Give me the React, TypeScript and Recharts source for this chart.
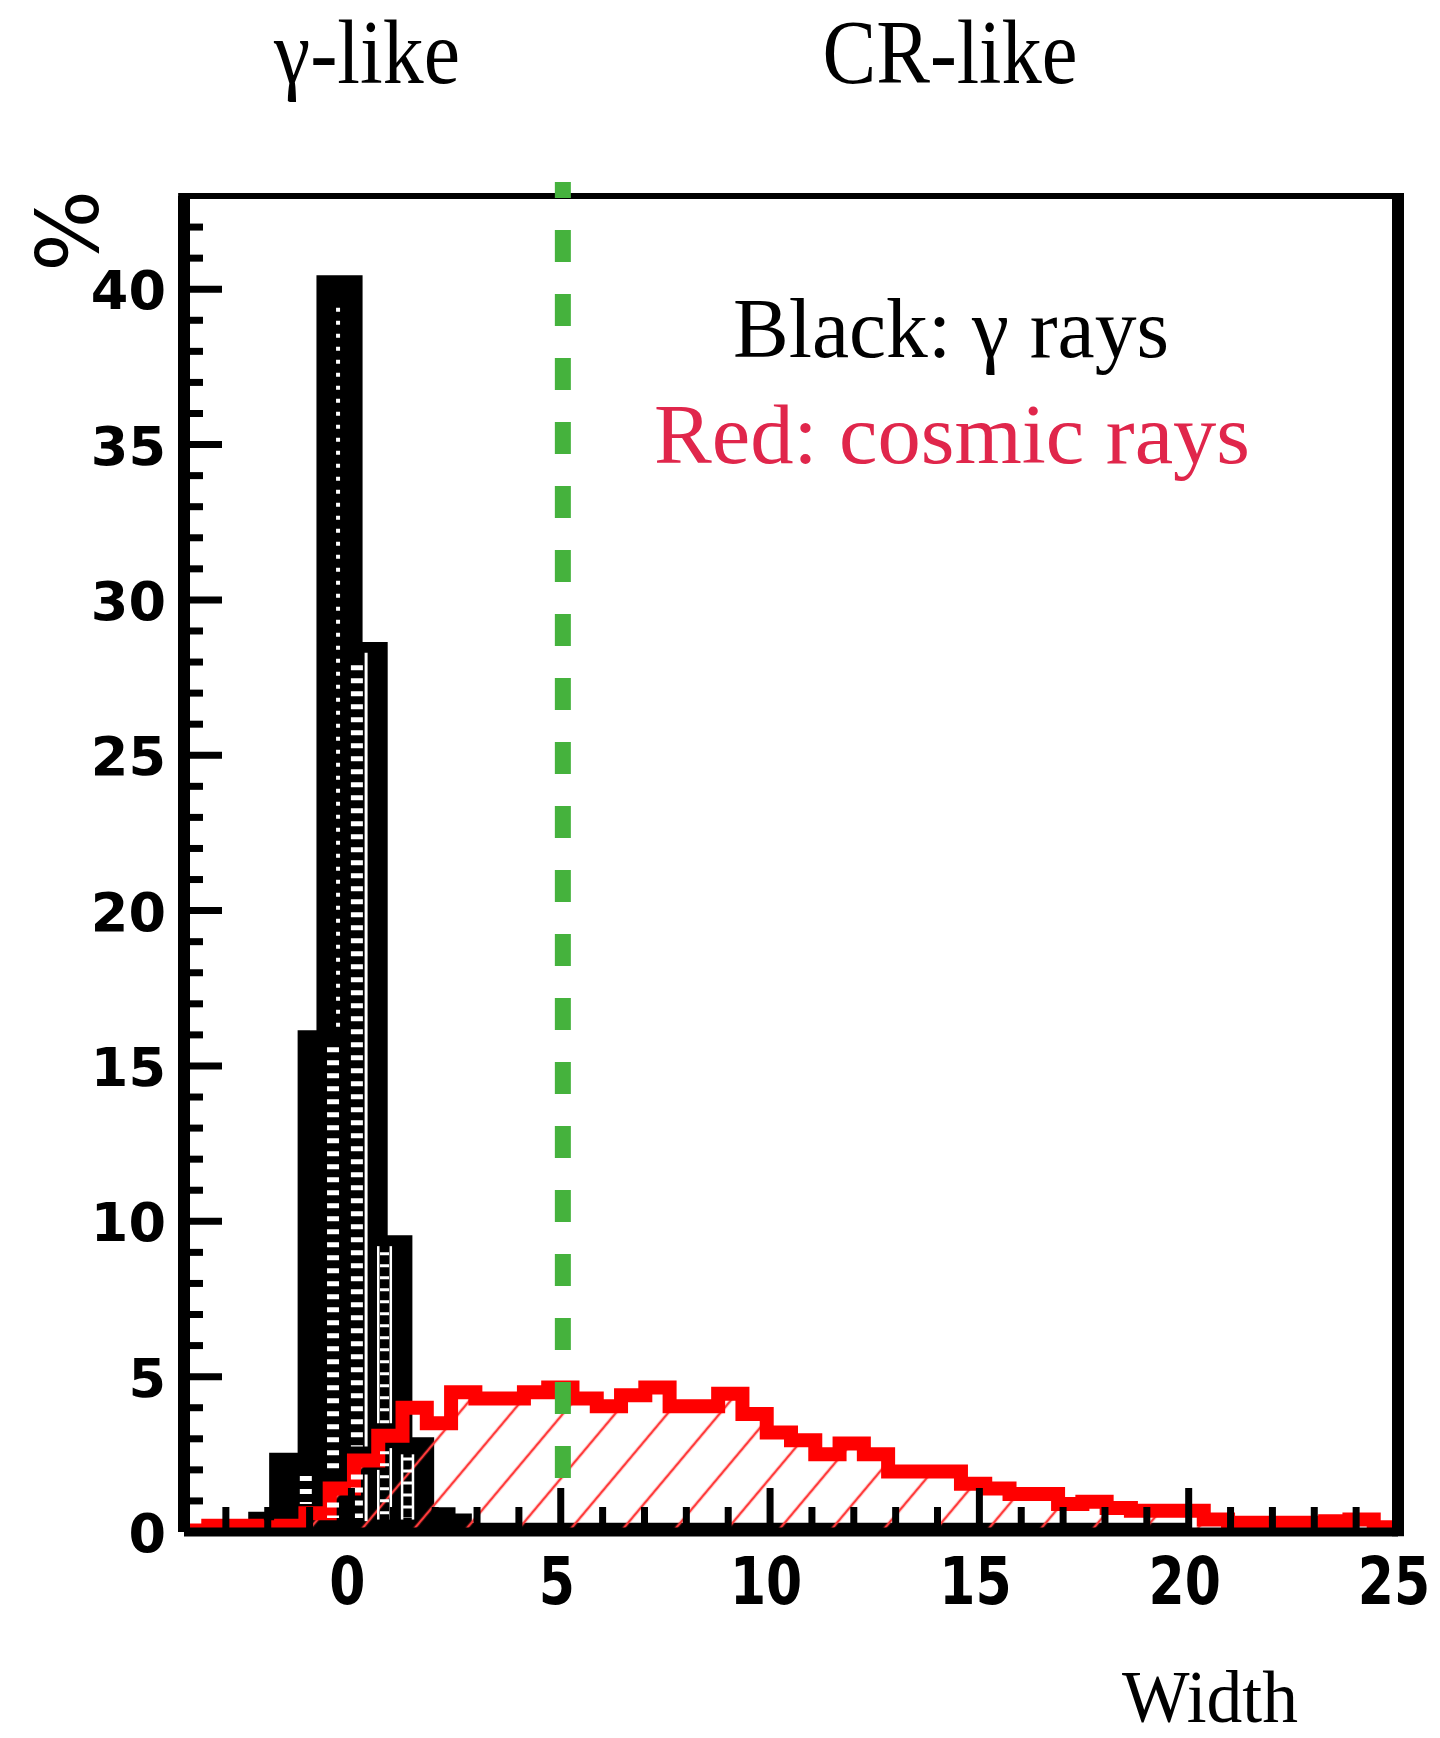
import React from "react";
import { ComposedChart, Area, XAxis, YAxis, ReferenceLine } from "recharts";

const W = 1440;
const H = 1738;

// 50 equal bins over the Width axis range
const BIN_START = -4;
const BIN_WIDTH = 0.58;

// cosmic rays: % of events per Width bin
const crPct = [
  0.05, 0.2, 0.2, 0.15, 0.2, 0.6, 1.4, 2.3, 3.1, 4.0,
  3.5, 4.5, 4.3, 4.3, 4.5, 4.65, 4.3, 4.05, 4.4, 4.65,
  4.05, 4.05, 4.45, 3.8, 3.2, 2.95, 2.5, 2.85, 2.5, 1.95,
  1.95, 1.95, 1.55, 1.4, 1.22, 1.22, 0.9, 0.97, 0.77, 0.68,
  0.68, 0.68, 0.4, 0.3, 0.3, 0.3, 0.3, 0.35, 0.4, 0.15,
];

// gamma rays: envelope of the overlaid gamma samples
const gammaEdges = [-4, -2.43, -1.93, -1.25, -0.8, 0.23, 0.83, 1.42, 1.94, 2.45, 2.84, 19.9, 25];
const gammaPct = [0.05, 0.6, 2.5, 16.1, 40.4, 28.6, 9.5, 3.0, 0.75, 0.55, 0.25, 0.08];

// white fill patterns of the overlaid gamma samples
const gammaTexture = [
  { x: -0.32, from: 39.4, to: 16.0, kind: "dots" },
  { x: -0.44, from: 15.6, to: 1.85, kind: "dashes" },
  { x: -0.44, from: 0.95, to: 0.45, kind: "dashes" },
  { x: 0.13, from: 27.9, to: 2.75, kind: "dashes" },
  { x: 0.13, from: 1.85, to: 0.45, kind: "dashes" },
  { x: 0.35, from: 28.3, to: 2.75, kind: "line" },
  { x: 0.35, from: 1.85, to: 0.35, kind: "line" },
  { x: 0.64, from: 9.2, to: 3.5, kind: "rail" },
  { x: 0.94, from: 9.2, to: 3.5, kind: "rail" },
  { x: 0.79, from: 9.0, to: 3.5, kind: "rungs" },
  { x: 0.64, from: 2.0, to: 0.4, kind: "rail" },
  { x: 0.94, from: 2.7, to: 0.4, kind: "rail" },
  { x: 0.79, from: 2.6, to: 0.45, kind: "rungs" },
  { x: 1.21, from: 2.5, to: 0.4, kind: "rail" },
  { x: 1.47, from: 2.5, to: 0.4, kind: "rail" },
  { x: 1.34, from: 2.4, to: 0.45, kind: "rungs" },
  { x: -1.09, from: 1.8, to: 0.9, kind: "dashes" },
];

const textureStyle: Record<string, { strokeWidth: number; strokeDasharray?: string }> = {
  dots: { strokeWidth: 4, strokeDasharray: "4 9" },
  dashes: { strokeWidth: 12, strokeDasharray: "5 8" },
  line: { strokeWidth: 3 },
  rail: { strokeWidth: 2.5 },
  rungs: { strokeWidth: 9, strokeDasharray: "3 9" },
};

// γ-like / CR-like separation cut
const cutWidth = 5.05;

const range = (a: number, b: number) => Array.from({ length: b - a + 1 }, (_, i) => a + i);
const xTicks = range(-4, 25);
const yTicks = range(0, 42);

const crEdges = crPct.map((_, i) => +(BIN_START + i * BIN_WIDTH).toFixed(2)).concat(25);

const stepValue = (edges: number[], vals: number[], x: number) => {
  for (let i = 0; i < vals.length; i++) {
    if (x >= edges[i] && x < edges[i + 1]) return vals[i];
  }
  return vals[vals.length - 1];
};

const xs = Array.from(new Set([...crEdges, ...gammaEdges])).sort((a, b) => a - b);
const data = xs.map((x) => ({
  x,
  cr: stepValue(crEdges, crPct, x),
  gamma: stepValue(gammaEdges, gammaPct, x),
}));

const XTick = (props: any) => {
  const { x, y, payload } = props;
  const v = payload.value;
  const major = v % 5 === 0;
  const edge = v === -4 || v === 25;
  return (
    <g>
      {!edge && (
        <line x1={x} x2={x} y1={y} y2={y - (major ? 44 : 25)} stroke="#000" strokeWidth={7} />
      )}
      {major && (
        <text
          transform={`translate(${x - 4}, ${y + 72}) scale(1, 1.25)`}
          textAnchor="middle"
          fontFamily="DejaVu Sans"
          fontWeight="bold"
          fontSize={52}
          fill="#000"
        >
          {v}
        </text>
      )}
    </g>
  );
};

const YTick = (props: any) => {
  const { x, y, payload } = props;
  const v = payload.value;
  const major = v % 5 === 0;
  return (
    <g>
      {v !== 0 && (
        <line x1={x} x2={x + (major ? 38 : 19)} y1={y} y2={y} stroke="#000" strokeWidth={7} />
      )}
      {major && (
        <text
          x={x - 18}
          y={y + 20}
          textAnchor="end"
          fontFamily="DejaVu Sans"
          fontWeight="bold"
          fontSize={54}
          fill="#000"
        >
          {v}
        </text>
      )}
    </g>
  );
};

export default function App() {
  return (
    <div style={{ position: "absolute", left: 0, top: 0, width: W, height: H, background: "#fff" }}>
      <ComposedChart
        width={W}
        height={H}
        data={data}
        margin={{ top: 196, right: 42, bottom: 205, left: 183 }}
      >
        <defs>
          <pattern id="crHatch" patternUnits="userSpaceOnUse" width={40} height={40} patternTransform="rotate(40)">
            <line x1={20} y1={0} x2={20} y2={40} stroke="#ff3a3a" strokeWidth={2.5} />
          </pattern>
        </defs>
        <XAxis
          type="number"
          dataKey="x"
          domain={[-4, 25]}
          ticks={xTicks}
          interval={0}
          allowDataOverflow
          height={1}
          tickLine={false}
          tickSize={0}
          tickMargin={0}
          tick={<XTick />}
          axisLine={{ stroke: "#000", strokeWidth: 9 }}
        />
        <YAxis
          type="number"
          domain={[0, 43]}
          ticks={yTicks}
          interval={0}
          allowDataOverflow
          width={1}
          tickLine={false}
          tickSize={0}
          tickMargin={0}
          tick={<YTick />}
          axisLine={{ stroke: "#000", strokeWidth: 12 }}
        />
        <Area
          type="stepAfter"
          dataKey="gamma"
          fill="#000"
          fillOpacity={1}
          stroke="#000"
          strokeWidth={3}
          dot={false}
          activeDot={false}
          isAnimationActive={false}
        />
        {gammaTexture.map((t, i) => (
          <ReferenceLine
            key={`tex-${i}`}
            segment={[{ x: t.x, y: t.from }, { x: t.x, y: t.to }]}
            stroke="#fff"
            {...textureStyle[t.kind]}
            ifOverflow="visible"
          />
        ))}
        <Area
          type="stepAfter"
          dataKey="cr"
          fill="url(#crHatch)"
          fillOpacity={1}
          stroke="#ff0000"
          strokeWidth={14}
          dot={false}
          activeDot={false}
          isAnimationActive={false}
        />
        <ReferenceLine
          segment={[{ x: -4.14, y: 43 }, { x: 25.14, y: 43 }]}
          stroke="#000"
          strokeWidth={6}
          ifOverflow="visible"
        />
        <ReferenceLine
          segment={[{ x: 25, y: 43.1 }, { x: 25, y: -0.14 }]}
          stroke="#000"
          strokeWidth={12}
          ifOverflow="visible"
        />
        <ReferenceLine
          segment={[{ x: cutWidth, y: 43.45 }, { x: cutWidth, y: 1.68 }]}
          stroke="#45b23d"
          strokeWidth={16}
          strokeDasharray="32 32"
          strokeDashoffset={16}
          ifOverflow="visible"
        />
      </ComposedChart>
      <svg width={W} height={H} style={{ position: "absolute", left: 0, top: 0, pointerEvents: "none" }}>
        <g fontFamily="Liberation Serif" fill="#000">
          <text x={367} y={83} fontSize={90} textAnchor="middle" textLength={186} lengthAdjust="spacingAndGlyphs">
            γ-like
          </text>
          <text x={950} y={83} fontSize={90} textAnchor="middle" textLength={255} lengthAdjust="spacingAndGlyphs">
            CR-like
          </text>
          <text x={951} y={357} fontSize={85} textAnchor="middle" textLength={436} lengthAdjust="spacingAndGlyphs">
            Black: γ rays
          </text>
          <text x={952} y={463} fontSize={85} textAnchor="middle" fill="#e0264b" textLength={596} lengthAdjust="spacingAndGlyphs">
            Red: cosmic rays
          </text>
          <text x={1210} y={1722} fontSize={74} textAnchor="middle" textLength={176} lengthAdjust="spacingAndGlyphs">
            Width
          </text>
        </g>
        <text
          transform="translate(98, 231) rotate(-90)"
          textAnchor="middle"
          fontFamily="DejaVu Sans"
          fontSize={86}
          fill="#000"
        >
          %
        </text>
      </svg>
    </div>
  );
}
